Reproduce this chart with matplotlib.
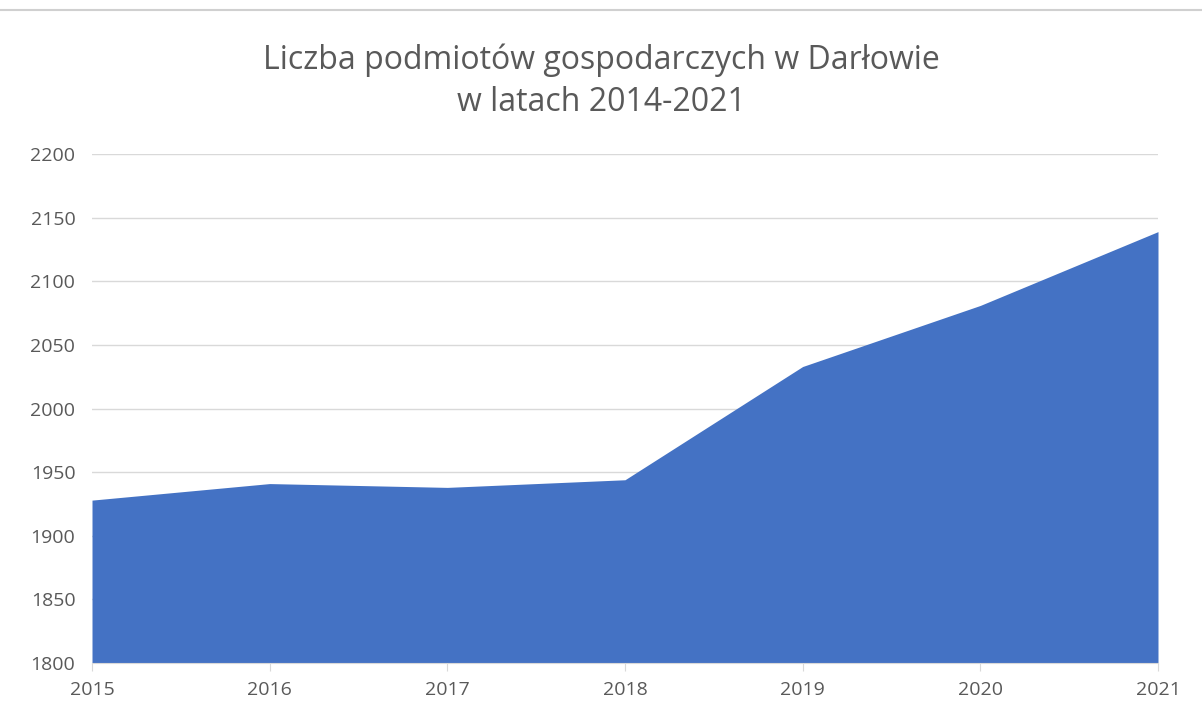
import matplotlib
matplotlib.use("Agg")
import matplotlib.pyplot as plt
from matplotlib.lines import Line2D

years = [2015, 2016, 2017, 2018, 2019, 2020, 2021]
values = [1928, 1941, 1938, 1944, 2033, 2081, 2139]
yticks = [1800, 1850, 1900, 1950, 2000, 2050, 2100, 2150, 2200]
title = "Liczba podmiotów gospodarczych w Darłowie\nw latach 2014-2021"

plt.rcParams['font.family'] = ['Open Sans', 'DejaVu Sans']

fig = plt.figure(figsize=(12.02, 7.17), dpi=100)
ax = fig.add_axes([92/1202, 54/717, (1158-92)/1202, (663-154)/717])

ax.fill_between(years, values, 1800, color='#4472C4', linewidth=0, zorder=2)
ax.set_xlim(years[0], years[-1])
ax.set_ylim(1800, 2200)
ax.set_yticks(yticks)
ax.set_xticks(years)
ax.grid(axis='y', color='#D9D9D9', linewidth=1, zorder=0)
ax.set_axisbelow(True)
for s in ['top', 'right', 'left']:
    ax.spines[s].set_visible(False)
ax.spines['bottom'].set_color('#D9D9D9')
ax.spines['bottom'].set_zorder(3)
ax.tick_params(axis='y', length=0, labelsize=14, labelcolor='#595959', pad=12)
ax.tick_params(axis='x', length=6, color='#D9D9D9', labelsize=14, labelcolor='#595959', pad=7)

fig.text(0.5, 0.887, title, ha='center', va='center', fontsize=23, color='#595959',
         linespacing=1.35)
fig.add_artist(Line2D([0.0, 1.0], [1 - 10/717, 1 - 10/717], color='#D0D0D0', linewidth=1.5,
                      transform=fig.transFigure))

fig.savefig('out.png', dpi=100)
